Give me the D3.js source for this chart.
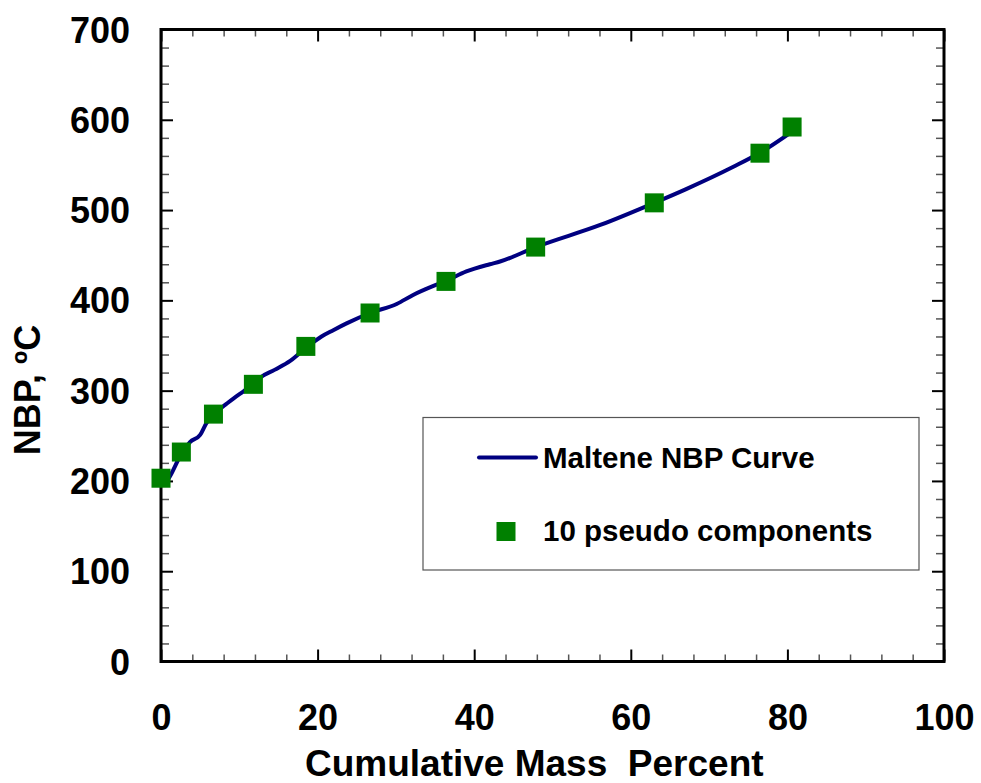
<!DOCTYPE html>
<html>
<head>
<meta charset="utf-8">
<script src="https://cdn.jsdelivr.net/npm/d3@7"></script>
<style>
  html, body { margin: 0; padding: 0; background: #fff; }
  svg { display: block; }
  text { font-family: "Liberation Sans", Arial, Helvetica, sans-serif; font-weight: bold; fill: #000; }
</style>
</head>
<body>
<svg id="chart" width="981" height="783"></svg>
<script>
// Pseudo-component cut points: cumulative mass % and normal boiling point (°C)
const componentMass = [0, 2.6, 6.7, 11.8, 18.5, 26.7, 36.4, 47.85, 63.0, 76.5, 80.6];
const componentNBP  = [203, 232, 274, 307, 349, 386, 421, 459, 508, 563, 592];

// Continuous maltene NBP distillation curve
const curveMass = [0.8, 1.2, 2.6, 3.7, 5.0, 5.8, 6.7, 8.0, 9.2, 10.5, 11.8, 12.6, 14.5, 16.5, 18.6, 20.5, 22.0, 23.7, 26.7, 30.1, 32.2, 34.8, 36.4, 39.0, 42.0, 43.3, 47.85, 56.1, 63.0, 67.0, 73.1, 76.5, 80.6];
const curveNBP  = [200, 206, 230, 243, 251, 264, 273, 283, 291, 299, 307, 314, 323, 333, 348, 360, 367, 374.5, 386, 396, 406, 416, 421.5, 432, 440, 443, 459, 483.5, 508, 523, 548, 563.5, 587];

// Axis ticks
const xMajorTicks = [0, 20, 40, 60, 80, 100];
const xMinorTicks = d3.range(0, 101, 4).filter(v => v % 20 !== 0);
const yMajorTicks = [0, 100, 200, 300, 400, 500, 600, 700];
const yMinorTicks = d3.range(0, 701, 20).filter(v => v % 100 !== 0);

const legendLabels = ["Maltene NBP Curve", "10 pseudo components"];
const xTitle = "Cumulative Mass  Percent";
const yTitle = "NBP, ºC";

const svg = d3.select("#chart");
const plot = { left: 161, right: 944, top: 29.5, bottom: 661.5 };

const x = d3.scaleLinear().domain([0, 100]).range([plot.left, plot.right]);
const y = d3.scaleLinear().domain([0, 700]).range([plot.bottom, plot.top]);

function styleTicks(g, color, width) {
  g.select(".domain").remove();
  g.selectAll(".tick line").attr("stroke", color).attr("stroke-width", width);
}

// Minor ticks (inward) on all four sides
svg.append("g").attr("transform", `translate(0,${plot.bottom})`)
  .call(d3.axisBottom(x).tickValues(xMinorTicks).tickSize(-7).tickFormat(""))
  .call(g => styleTicks(g, "#555", 1.5));
svg.append("g").attr("transform", `translate(0,${plot.top})`)
  .call(d3.axisTop(x).tickValues(xMinorTicks).tickSize(-7).tickFormat(""))
  .call(g => styleTicks(g, "#555", 1.5));
svg.append("g").attr("transform", `translate(${plot.left},0)`)
  .call(d3.axisLeft(y).tickValues(yMinorTicks).tickSize(-8).tickFormat(""))
  .call(g => styleTicks(g, "#555", 1.5));
svg.append("g").attr("transform", `translate(${plot.right},0)`)
  .call(d3.axisRight(y).tickValues(yMinorTicks).tickSize(-8).tickFormat(""))
  .call(g => styleTicks(g, "#555", 1.5));

// Major ticks with labels
svg.append("g").attr("transform", `translate(0,${plot.bottom})`)
  .call(d3.axisBottom(x).tickValues(xMajorTicks).tickSize(-12).tickPadding(43).tickFormat(d3.format("d")))
  .call(g => styleTicks(g, "#000", 2))
  .call(g => g.selectAll("text").attr("font-size", 36).attr("font-family", null));
svg.append("g").attr("transform", `translate(0,${plot.top})`)
  .call(d3.axisTop(x).tickValues(xMajorTicks).tickSize(-12).tickFormat(""))
  .call(g => styleTicks(g, "#000", 2));
svg.append("g").attr("transform", `translate(${plot.left},0)`)
  .call(d3.axisLeft(y).tickValues(yMajorTicks).tickSize(-12).tickPadding(31).tickFormat(d3.format("d")))
  .call(g => styleTicks(g, "#000", 2))
  .call(g => g.selectAll("text").attr("font-size", 36).attr("font-family", null).attr("dy", "0.35em"));
svg.append("g").attr("transform", `translate(${plot.right},0)`)
  .call(d3.axisRight(y).tickValues(yMajorTicks).tickSize(-12).tickFormat(""))
  .call(g => styleTicks(g, "#000", 2));

// Plot frame
svg.append("rect")
  .attr("x", plot.left).attr("y", plot.top)
  .attr("width", plot.right - plot.left).attr("height", plot.bottom - plot.top)
  .attr("fill", "none").attr("stroke", "#000").attr("stroke-width", 3);

// NBP curve
const curveData = curveMass.map((m, i) => [m, curveNBP[i]]);
svg.append("path")
  .datum(curveData)
  .attr("fill", "none")
  .attr("stroke", "#000080")
  .attr("stroke-width", 4)
  .attr("stroke-linejoin", "round")
  .attr("d", d3.line().x(d => x(d[0])).y(d => y(d[1])).curve(d3.curveMonotoneX));

// Pseudo-component markers
const sq = 19;
svg.append("g").selectAll("rect")
  .data(componentMass.map((m, i) => [m, componentNBP[i]]))
  .join("rect")
  .attr("x", d => x(d[0]) - sq / 2)
  .attr("y", d => y(d[1]) - sq / 2)
  .attr("width", sq).attr("height", sq)
  .attr("fill", "#008000");

// Legend
const legend = svg.append("g");
legend.append("rect")
  .attr("x", 423).attr("y", 417.5).attr("width", 496).attr("height", 152.5)
  .attr("fill", "#fff").attr("stroke", "#555").attr("stroke-width", 1.2);
legend.append("line")
  .attr("x1", 479).attr("x2", 536).attr("y1", 457.5).attr("y2", 457.5)
  .attr("stroke", "#000080").attr("stroke-width", 4).attr("stroke-linecap", "round");
legend.append("text").attr("x", 543).attr("y", 468).attr("font-size", 29.5).text(legendLabels[0]);
legend.append("rect")
  .attr("x", 506 - sq / 2).attr("y", 531.5 - sq / 2).attr("width", sq).attr("height", sq)
  .attr("fill", "#008000");
legend.append("text").attr("x", 543).attr("y", 541).attr("font-size", 29.5).text(legendLabels[1]);

// Axis titles
svg.append("text")
  .attr("x", 305).attr("y", 776)
  .attr("font-size", 37)
  .attr("xml:space", "preserve")
  .style("white-space", "pre")
  .text(xTitle);
svg.append("text")
  .attr("transform", "translate(40,390) rotate(-90)")
  .attr("text-anchor", "middle")
  .attr("font-size", 36)
  .text(yTitle);
</script>
</body>
</html>
